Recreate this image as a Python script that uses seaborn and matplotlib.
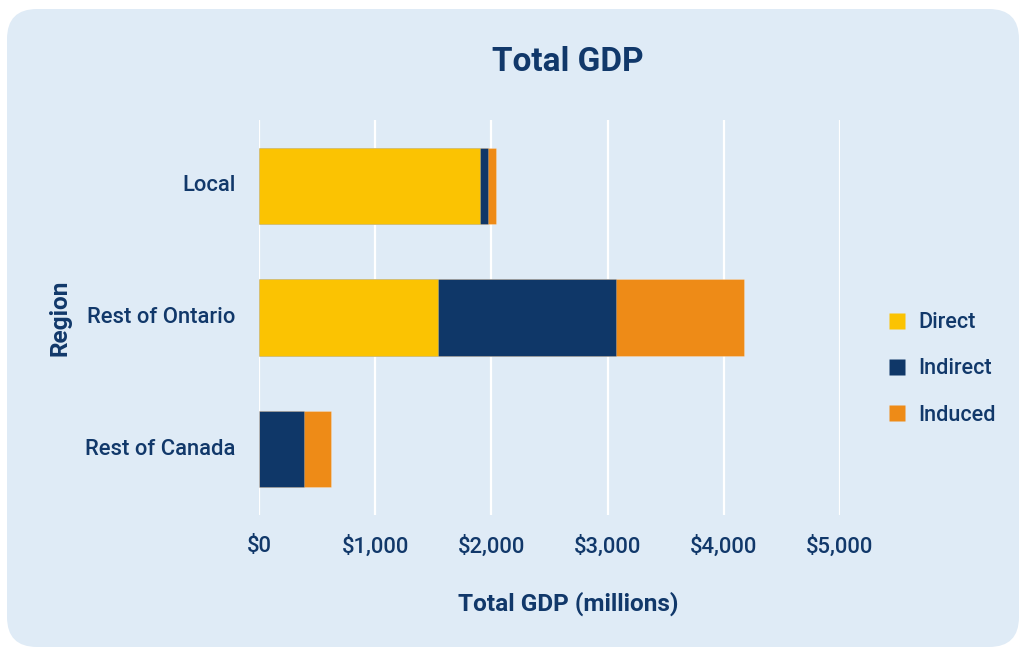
import matplotlib
matplotlib.use("Agg")
import matplotlib.pyplot as plt
from matplotlib.patches import FancyBboxPatch
from matplotlib.lines import Line2D
from matplotlib.ticker import FuncFormatter
import matplotlib.transforms as mtransforms
import seaborn as sns
import pandas as pd
import numpy as np

regions = ["Local", "Rest of Ontario", "Rest of Canada"]
direct = [1900, 1538, 0]
indirect = [75, 1534, 387]
induced = [65, 1102, 230]
series_names = ["Direct", "Indirect", "Induced"]
xticks = [0, 1000, 2000, 3000, 4000, 5000]

colors = {"Direct": "#fbc302", "Indirect": "#0f3768", "Induced": "#ee8b17"}
bg = "#dfebf6"
navy = "#11386a"

sns.set_theme(style="white")
plt.rcParams["font.family"] = ["Roboto", "DejaVu Sans"]

fig = plt.figure(figsize=(10.21, 6.47), dpi=100)
fig.patch.set_facecolor("white")
rect = FancyBboxPatch((7, 0), 1012, 638, boxstyle="round,pad=0,rounding_size=30",
                      transform=None, facecolor=bg, edgecolor="none", zorder=-10)
fig.patches.append(rect)

ax = fig.add_axes([259/1021, 1-515/647, (840-259)/1021, (515-120)/647])
ax.set_facecolor(bg)
ax.patch.set_alpha(0)

df = pd.DataFrame({"Region": regions, "Direct": direct, "Indirect": indirect, "Induced": induced})
df["c_direct"] = df["Direct"]
df["c_indirect"] = df["Direct"] + df["Indirect"]
df["c_induced"] = df["c_indirect"] + df["Induced"]

for col, name in [("c_induced", "Induced"), ("c_indirect", "Indirect"), ("c_direct", "Direct")]:
    sns.barplot(data=df, x=col, y="Region", order=regions, color=colors[name],
                width=0.58, saturation=1, ax=ax, orient="h",
                edgecolor=(1, 1, 1, 0.25), linewidth=0.6, zorder=3)

ax.set_xlim(0, 5000)
ax.set_ylim(2.5, -0.5)
ax.set_xticks(xticks)
ax.xaxis.set_major_formatter(FuncFormatter(lambda v, p: f"${int(v):,}"))
ax.grid(axis="x", color="white", linewidth=1.6, zorder=0)
ax.grid(axis="y", visible=False)
ax.set_axisbelow(True)
for s in ax.spines.values():
    s.set_visible(False)
ax.tick_params(axis="both", length=0, colors=navy, labelsize=15.8)
ax.tick_params(axis="y", pad=17)
ax.tick_params(axis="x", pad=15)
for lab in ax.get_xticklabels() + ax.get_yticklabels():
    lab.set_fontweight(500)
    lab.set_color(navy)
shift_up = mtransforms.ScaledTranslation(0, 2.5/100, fig.dpi_scale_trans)
for lab in ax.get_yticklabels():
    lab.set_transform(lab.get_transform() + shift_up)

ax.set_xlabel("Total GDP (millions)", fontsize=17.6, fontweight="bold", color=navy)
ax.xaxis.set_label_coords((568-259)/581, -(604-515)/395)
ax.xaxis.label.set_verticalalignment("center")
ax.set_ylabel("Region", fontsize=17.6, fontweight="bold", color=navy)
ax.yaxis.set_label_coords(-(259-60)/581, 0.5)
ax.yaxis.label.set_verticalalignment("center")

fig.text(568/1021, 1-62/647, "Total GDP", ha="center", va="center",
         fontsize=24, fontweight="bold", color=navy)

handles = [Line2D([0], [0], marker="s", linestyle="none", markersize=11,
                  markerfacecolor=colors[n], markeredgecolor="none") for n in series_names]
leg = fig.legend(handles, series_names, loc="center left",
                 bbox_to_anchor=(867/1021, 1-369/647), frameon=False,
                 handlelength=1.0, handletextpad=0.45, labelspacing=1.17,
                 prop={"size": 15.6, "weight": 500})
for t in leg.get_texts():
    t.set_color(navy)

fig.savefig("out.png", dpi=100, facecolor="white")
